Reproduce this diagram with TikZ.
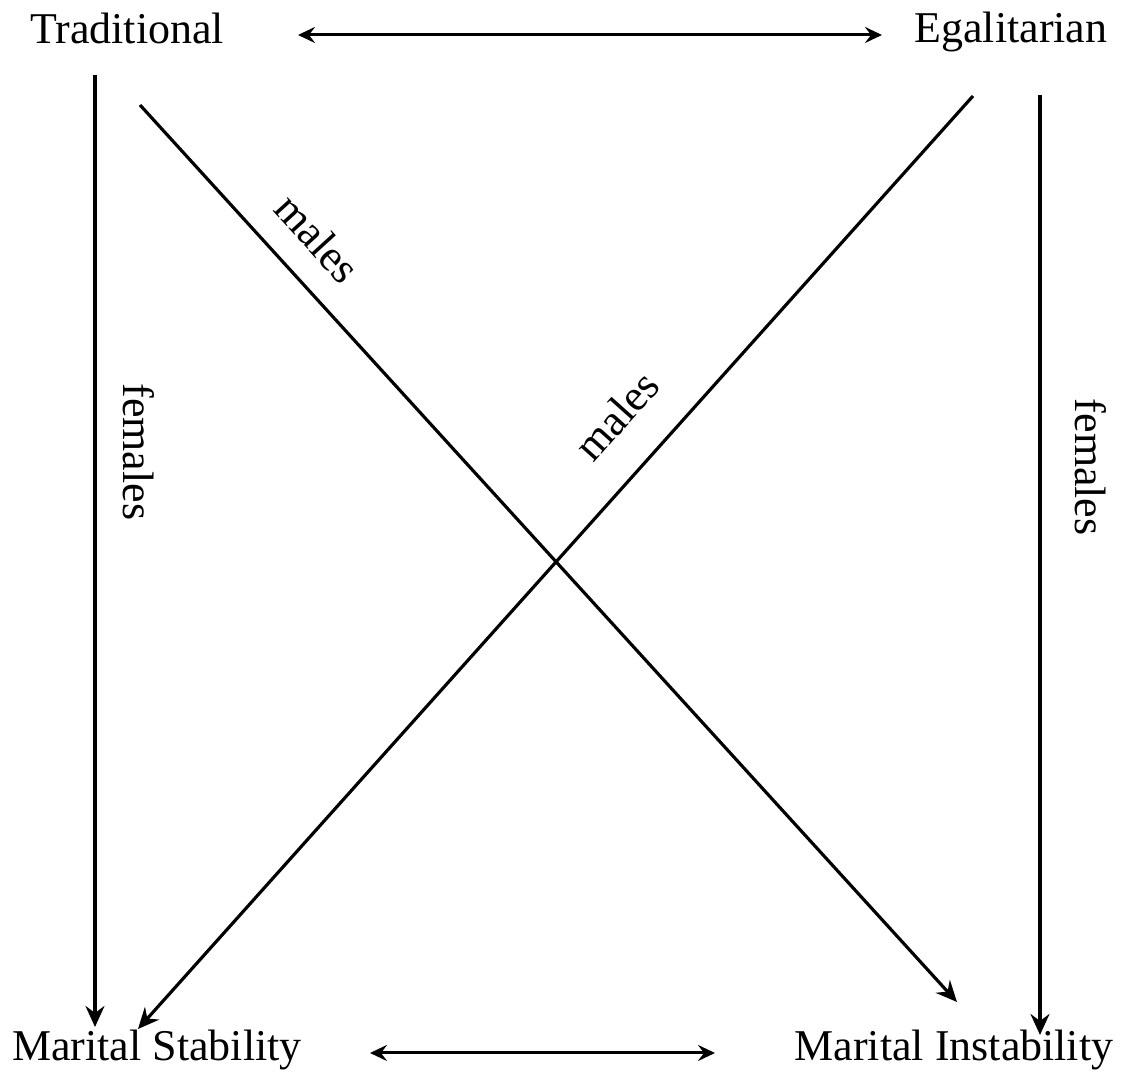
\documentclass[tikz,border=0pt]{standalone}
\usepackage{fontspec}
\setmainfont{Liberation Serif}
\usetikzlibrary{arrows.meta}
\tikzset{
  every node/.append style={font=\fontsize{12.5}{15}\selectfont, inner sep=0pt},
  lbl/.style={anchor=base},
  arr/.style={-{Stealth[length=2.1mm, width=1.9mm, inset=0.7mm]}, line width=0.9pt},
  darr/.style={{Stealth[length=1.7mm, width=1.6mm, inset=0.6mm]}-{Stealth[length=1.7mm, width=1.6mm, inset=0.6mm]}, line width=0.85pt},
  vside/.style={rotate=-90, anchor=south, outer sep=8pt},
  dside/.style={sloped, above},
}
\begin{document}
\begin{tikzpicture}[x=0.01cm, y=-0.01cm]
  \useasboundingbox (0,0) rectangle (1126,1077);
  % --- the four categories ---
  \node[lbl] (trad) at (127,44) {Traditional};
  \node[lbl] (egal) at (1011,43) {Egalitarian};
  \node[lbl] (stab) at (157,1061) {Marital Stability};
  \node[lbl] (inst) at (954,1061) {Marital Instability};
  % --- arrow end points ---
  \coordinate (ta) at (298,35);
  \coordinate (tb) at (882,35);
  \coordinate (sa) at (370,1053);
  \coordinate (sb) at (715,1053);
  \coordinate (tl) at (95,75);
  \coordinate (bl) at (95,1027);
  \coordinate (tr) at (1040,95);
  \coordinate (br) at (1040,1035);
  \coordinate (d1a) at (140,105);
  \coordinate (d1b) at (957,1002);
  \coordinate (d2a) at (973,96);
  \coordinate (d2b) at (138,1029);
  % --- connectors ---
  \draw[darr] (ta) -- (tb);
  \draw[darr] (sa) -- (sb);
  \draw[arr] (tl) -- (bl) node[vside, pos=0.396] (f1) {females};
  \draw[arr] (tr) -- (br) node[vside, pos=0.396, outer sep=10pt] (f2) {females};
  \draw[arr] (d1a) -- (d1b) node[dside, pos=0.18, above=7pt] (m1) {males};
  \draw[arr] (d2a) -- (d2b) node[dside, pos=0.38, above=10pt] (m2) {males};
\end{tikzpicture}
\end{document}
